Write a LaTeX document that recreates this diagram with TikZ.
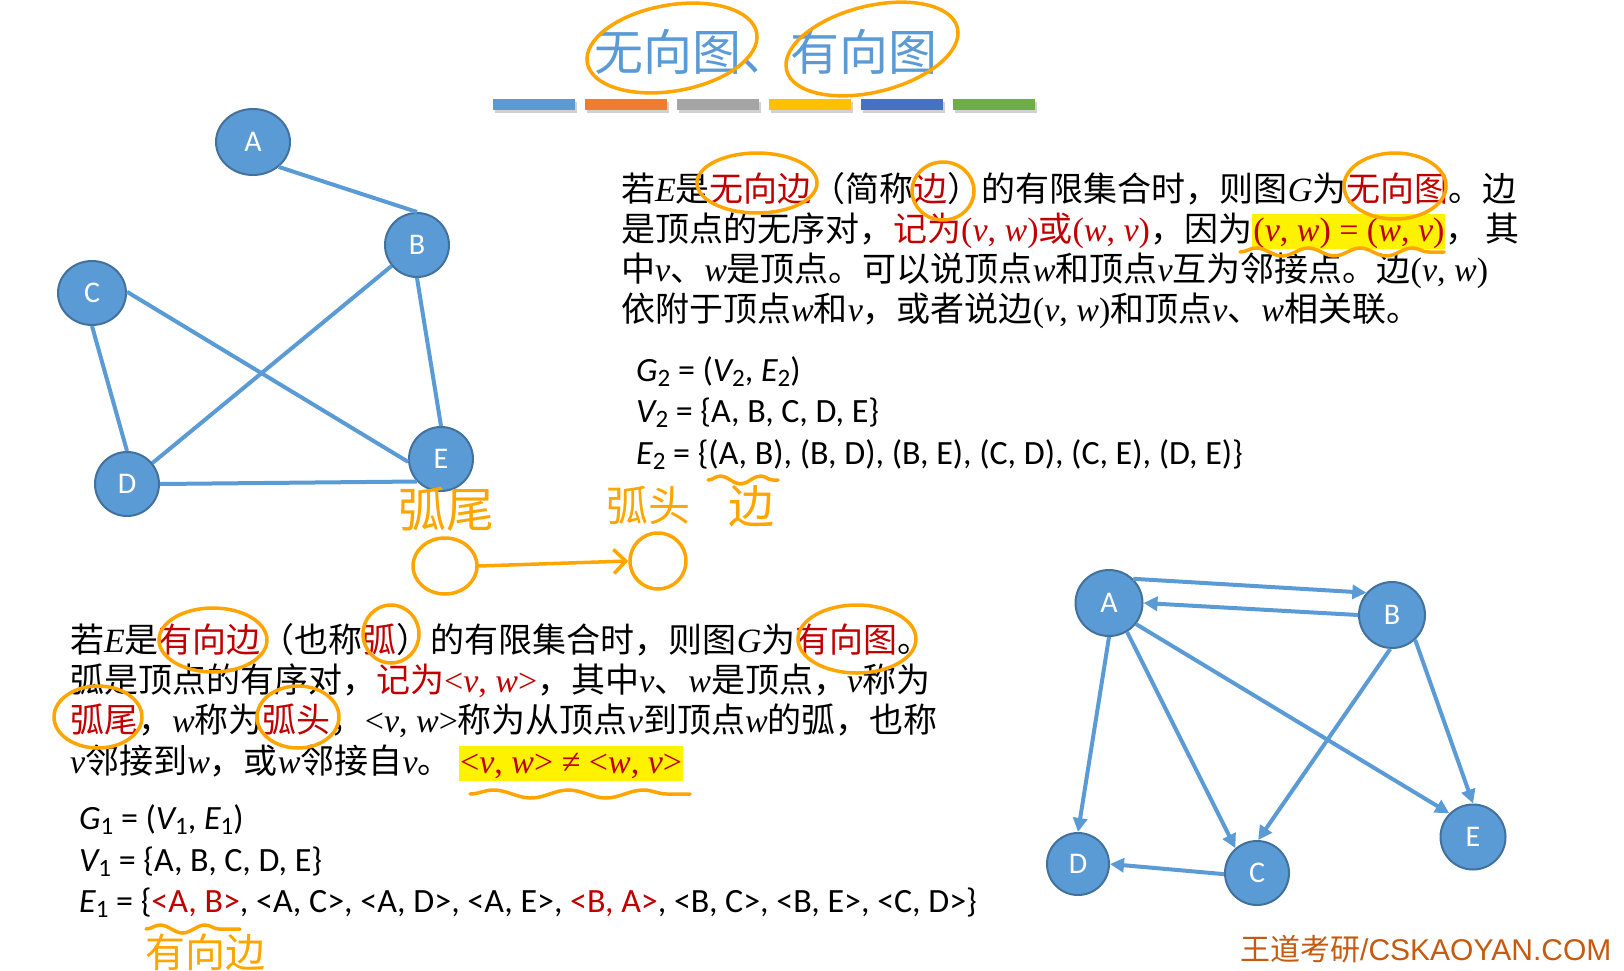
\documentclass[tikz,border=0pt]{standalone}
\usepackage{fontspec}
\setmainfont{Liberation Serif}
\newfontfamily\cjk{Noto Sans CJK SC}
\newfontfamily\tnr{Liberation Serif}
\newfontfamily\cali{Carlito}
\newfontfamily\arialf{Liberation Sans}
\usepackage{tikz}
\usetikzlibrary{arrows.meta,shapes.geometric,decorations.pathmorphing}
\definecolor{wdblue}{HTML}{5B9BD5}
\definecolor{wdedge}{HTML}{41719C}
\definecolor{wdred}{HTML}{C00000}
\definecolor{wdhand}{HTML}{FFA500}
\definecolor{wdmark}{HTML}{C55A11}
\definecolor{barorange}{HTML}{ED7D31}
\definecolor{bargray}{HTML}{A5A5A5}
\definecolor{baryellow}{HTML}{FFC000}
\definecolor{bardblue}{HTML}{4472C4}
\definecolor{bargreen}{HTML}{70AD47}
\newcommand\hv[1]{{\tnr\itshape #1}}
\newcommand\hr[1]{{\tnr #1}}
\newcommand\hred[1]{\textcolor{wdred}{#1}}
\newcommand\pr[2]{\hr{(}\hv{#1}\hr{, }\hv{#2}\hr{)}}
\newcommand\ag[2]{\hr{<}\hv{#1}\hr{, }\hv{#2}\hr{>}}
\newcommand\ci[1]{{\itshape #1}}
\newcommand\sbs[1]{\raisebox{-5pt}{\fontsize{25}{25}\selectfont #1}}
\tikzset{
  vtx/.style={ellipse, fill=wdblue, draw=wdedge, line width=2pt, minimum width=64pt,
    minimum height=64pt, inner sep=0pt, text=white, font=\cali\fontsize{30}{30}\selectfont},
  uedge/.style={draw=wdblue, line width=4pt},
  dedge/.style={uedge, -{Triangle[length=14pt,width=14pt]}},
  bodyline/.style={anchor=base west, inner sep=0pt, font=\cjk\fontsize{34}{40}\selectfont},
  setline/.style={anchor=base west, inner sep=0pt, font=\cali\fontsize{34}{40}\selectfont},
  hilite/.style={bodyline, fill=yellow, inner xsep=1pt, inner ysep=2pt,
    text height=25pt, text depth=6pt},
  hand/.style={draw=wdhand, line width=3.5pt, line cap=round, line join=round},
  handcirc/.style={ellipse, hand, inner sep=0pt},
  handtext/.style={text=wdhand, inner sep=0pt, font=\cjk\fontsize{#1}{#1}\selectfont},
  handtext/.default=44,
  wavy/.style={hand, decorate, decoration={snake, amplitude=4pt, segment length=#1}},
  wavy/.default=50pt
}
\begin{document}
\begin{tikzpicture}[x=1pt,y=-1pt]
  \useasboundingbox[fill=white] (0,0) rectangle (1624,971);

  % title and colour bars
  \node[anchor=base west, inner sep=0pt, text=wdblue, font=\cjk\fontsize{49}{49}\selectfont]
    (title) at (594,71) {无向图、有向图};
  \foreach \c [count=\i from 0] in {wdblue,barorange,bargray,baryellow,bardblue,bargreen} {
    \fill[black!18] (495+\i*92,102) rectangle ++(82,11);
    \fill[\c] (493+\i*92,99) rectangle ++(82,11);
  }

  % undirected graph G2
  \node[vtx, minimum width=74pt, minimum height=66pt] (uA) at (253,142) {A};
  \node[vtx] (uB) at (417,245) {B};
  \node[vtx, minimum width=68pt] (uC) at (92,293) {C};
  \node[vtx] (uD) at (127,484) {D};
  \node[vtx] (uE) at (441,459) {E};
  \draw[uedge] (uA.-44) -- (uB.north);
  \draw[uedge] (uB) -- (uD);
  \draw[uedge] (uB.south) -- (uE.north);
  \draw[uedge] (uC.south) -- (uD.north);
  \draw[uedge] (uC.2) -- (uE.185);
  \draw[uedge] (uD.east) -- (uE.223);

  % directed graph G1
  \node[vtx, minimum width=67pt, minimum height=66pt] (dA) at (1109,603) {A};
  \node[vtx, minimum width=66pt, minimum height=66pt] (dB) at (1392,615) {B};
  \node[vtx] (dC) at (1257,873) {C};
  \node[vtx, minimum width=62pt, minimum height=62pt] (dD) at (1078,864) {D};
  \node[vtx, minimum width=65pt, minimum height=65pt] (dE) at (1473,837) {E};
  \draw[dedge] (dA.45) -- (dB.139);
  \draw[dedge] (dB.180) -- (dA.0);
  \draw[dedge] (dA.-58) -- (dC.131);
  \draw[dedge] (dA.south) -- (dD.north);
  \draw[dedge] (dA.-38) -- (dE.135);
  \draw[dedge] (dB.-93) -- (dC.88);
  \draw[dedge] (dB.-47) -- (dE.90);
  \draw[dedge] (dC.182) -- (dD.0);

  % undirected definition
  \node[bodyline] (u1) at (621,201)
    {若\hv{E}是\hred{无向边}（简称\hred{边}）的有限集合时，则图\hv{G}为\hred{无向图}。边};
  \node[bodyline] (u2a) at (621,241)
    {是顶点的无序对，\hred{记为\pr{v}{w}或\pr{w}{v}}，因为};
  \node[hilite] (u2b) at (u2a.base east) {\hred{\pr{v}{w}\hr{ = }\pr{w}{v}}};
  \node[bodyline] (u2c) at (u2b.base east) {，\hspace{6pt}其};
  \node[bodyline] (u3) at (621,281)
    {中\hv{v}、\hv{w}是顶点。可以说顶点\hv{w}和顶点\hv{v}互为邻接点。边\pr{v}{w}};
  \node[bodyline] (u4) at (621,321)
    {依附于顶点\hv{w}和\hv{v}，或者说边\pr{v}{w}和顶点\hv{v}、\hv{w}相关联。};

  \node[setline] (g2) at (636,381) {\ci{G}\sbs{2} = (\ci{V}\sbs{2}, \ci{E}\sbs{2})};
  \node[setline] (v2) at (636,422) {\ci{V}\sbs{2} = \{A, B, C, D, E\}};
  \node[setline] (e2) at (636,464)
    {\ci{E}\sbs{2} = \{(A, B), (B, D), (B, E), (C, D), (C, E), (D, E)\}};

  % directed definition
  \node[bodyline] (l1) at (70,652)
    {若\hv{E}是\hred{有向边}（也称\hred{弧}）的有限集合时，则图\hv{G}为\hred{有向图}。};
  \node[bodyline] (l2) at (70,692)
    {弧是顶点的有序对，\hred{记为\ag{v}{w}}，其中\hv{v}、\hv{w}是顶点，\hv{v}称为};
  \node[bodyline] (l3) at (70,732)
    {\hred{弧尾}，\hv{w}称为\hred{弧头}，\ag{v}{w}称为从顶点\hv{v}到顶点\hv{w}的弧，也称};
  \node[bodyline] (l4) at (70,773)
    {\hv{v}邻接到\hv{w}，或\hv{w}邻接自\hv{v}。};
  \node[hilite] (l4b) at (459,773) {\hred{\ag{v}{w}\hr{ ≠ }\ag{w}{v}}};

  \node[setline] (g1) at (79,829) {\ci{G}\sbs{1} = (\ci{V}\sbs{1}, \ci{E}\sbs{1})};
  \node[setline] (v1) at (79,871) {\ci{V}\sbs{1} = \{A, B, C, D, E\}};
  \node[setline] (e1) at (79,912)
    {\ci{E}\sbs{1} = \{\hred{<A, B>}, <A, C>, <A, D>, <A, E>, \hred{<B, A>}, <B, C>, <B, E>, <C, D>\}};

  \node[anchor=base west, inner sep=0pt, text=wdmark, font=\fontsize{30}{30}\selectfont]
    (mark) at (1240,960) {{\cjk 王道考研}{\arialf /CSKAOYAN.COM}};

  % hand notes
  \draw[hand, rotate around={10:(672,48)}] (672,48) ellipse [x radius=86pt, y radius=43pt];
  \draw[hand, rotate around={14:(872,49)}] (872,49) ellipse [x radius=88pt, y radius=43pt];
  \draw[hand] (757,183) ellipse [x radius=60pt, y radius=30pt];
  \draw[hand] (943,191) ellipse [x radius=31pt, y radius=29pt];
  \draw[hand] (1395,186) ellipse [x radius=51pt, y radius=33pt];
  \draw[wavy=52pt] (1240,252) -- (1444,252);
  \draw[wavy=40pt] (708,480) -- (778,480);
  \node[handtext=46] (nbian) at (751,506) {边};
  \node[handtext=48] (ntail) at (446,509) {弧尾};
  \node[handtext=42] (nhead) at (648,505) {弧头};
  \node[handcirc, minimum width=64pt, minimum height=56pt] (ctail) at (445,566) {};
  \node[handcirc, minimum width=56pt, minimum height=56pt] (chead) at (658,561) {};
  \draw[hand, -{Straight Barb[length=12pt,width=24pt]}] (ctail.east) -- (chead.west);

  \draw[hand] (213,640) ellipse [x radius=54pt, y radius=32pt];
  \draw[hand] (391,634) ellipse [x radius=28pt, y radius=29pt];
  \draw[hand] (857,639) ellipse [x radius=59pt, y radius=34pt];
  \draw[hand] (98,717) ellipse [x radius=44pt, y radius=31pt];
  \draw[hand] (298,717) ellipse [x radius=41pt, y radius=31pt];
  \draw[wavy=75pt] (470,794) -- (690,794);
  \draw[wavy=45pt] (146,929) -- (240,929);
  \node[handtext=40] (ndir) at (205,952) {有向边};
\end{tikzpicture}
\end{document}
